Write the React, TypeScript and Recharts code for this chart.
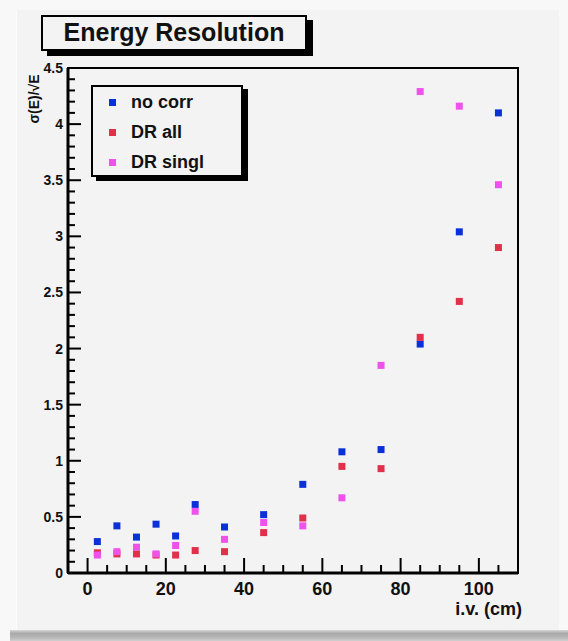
import React from 'react';
import { ScatterChart, Scatter, XAxis, YAxis, ReferenceArea } from 'recharts';

// impact positions (cm) and resolution values per reconstruction
const ivPositions = [2.5, 7.5, 12.5, 17.5, 22.5, 27.5, 35, 45, 55, 65, 75, 85, 95, 105];
const noCorr = [0.28, 0.42, 0.32, 0.435, 0.33, 0.61, 0.41, 0.52, 0.79, 1.08, 1.1, 2.04, 3.04, 4.1];
const drAll = [0.18, 0.17, 0.17, 0.16, 0.16, 0.2, 0.19, 0.36, 0.49, 0.95, 0.93, 2.1, 2.42, 2.9];
const drSingl = [0.16, 0.19, 0.23, 0.17, 0.245, 0.55, 0.3, 0.45, 0.42, 0.67, 1.85, 4.29, 4.16, 3.46];

const xMajorTicks = [0, 20, 40, 60, 80, 100];
const yMajorTicks = [0, 0.5, 1, 1.5, 2, 2.5, 3, 3.5, 4, 4.5];
// minor divisions: every 5 cm on x, every 0.1 on y
const xTicks = Array.from({ length: 24 }, (_, i) => -5 + i * 5);
const yTicks = Array.from({ length: 46 }, (_, i) => i / 10);

const FONT = '"Liberation Sans", Arial, Helvetica, sans-serif';
const BG = '#f3f3f3';

const series = [
  { name: 'no corr', color: '#0a30da', values: noCorr },
  { name: 'DR all', color: '#e2304a', values: drAll },
  { name: 'DR singl', color: '#ee52ea', values: drSingl },
];

const toPoints = (values: number[]) => ivPositions.map((x, i) => ({ x, y: values[i] }));

const isMajor = (v: number, list: number[]) => list.some((m) => Math.abs(m - v) < 1e-6);

const YTick = (props: any) => {
  const { x, y, payload } = props;
  const v = payload.value;
  const major = isMajor(v, yMajorTicks);
  return (
    <g>
      <line x1={x} x2={x + (major ? 13 : 7)} y1={y} y2={y} stroke="#000" strokeWidth={2} />
      {major && (
        <text x={x - 5} y={y + 5} textAnchor="end" fontSize={14} fontWeight="bold" fontFamily={FONT} fill="#111">
          {String(v)}
        </text>
      )}
    </g>
  );
};

const XTick = (props: any) => {
  const { x, y, payload } = props;
  const v = payload.value;
  if (v < 0 || v > 105) return <g />;
  const major = isMajor(v, xMajorTicks);
  return (
    <g>
      <line x1={x} x2={x} y1={y} y2={y - (major ? 15 : 8)} stroke="#000" strokeWidth={2} />
      {major && (
        <text x={x} y={y + 22} textAnchor="middle" fontSize={18} fontWeight="bold" fontFamily={FONT} fill="#111">
          {String(v)}
        </text>
      )}
    </g>
  );
};

const squareShape = (color: string) => (p: any) => (
  <rect x={p.cx - 3.5} y={p.cy - 3.5} width={7} height={7} fill={color} />
);

export default function App() {
  return (
    <div style={{ position: 'absolute', left: 0, top: 0, width: 568, height: 641, background: '#f8f8f8', overflow: 'hidden', fontFamily: FONT }}>
      {/* canvas panel */}
      <div style={{ position: 'absolute', left: 16, top: 10, width: 542, height: 620, background: BG, borderLeft: '1px solid #fcfcfc' }} />
      <div style={{ position: 'absolute', left: 10, top: 630, width: 558, height: 11, background: 'linear-gradient(#d8d8d8, #a9a9a9 30%, #b8b8b8 70%, #cfcfcf)' }} />

      <div style={{ position: 'absolute', left: 0, top: 0 }}>
        <ScatterChart width={568} height={641} margin={{ top: 68, right: 50, bottom: 28, left: 0 }}>
          <ReferenceArea x1={-5} x2={110} y1={0} y2={4.5} fill="none" stroke="#000" strokeWidth={2} />
          <XAxis
            type="number"
            dataKey="x"
            domain={[-5, 110]}
            ticks={xTicks}
            interval={0}
            allowDataOverflow
            height={40}
            tickSize={0}
            tickMargin={0}
            tickLine={false}
            axisLine={{ stroke: '#000', strokeWidth: 3 }}
            tick={<XTick />}
          />
          <YAxis
            type="number"
            dataKey="y"
            domain={[0, 4.5]}
            ticks={yTicks}
            interval={0}
            allowDataOverflow
            width={68}
            tickSize={0}
            tickMargin={0}
            tickLine={false}
            axisLine={{ stroke: '#000', strokeWidth: 3 }}
            tick={<YTick />}
          />
          {series.map((s) => (
            <Scatter
              key={s.name}
              name={s.name}
              data={toPoints(s.values)}
              fill={s.color}
              shape={squareShape(s.color)}
              isAnimationActive={false}
            />
          ))}
        </ScatterChart>
      </div>

      {/* title box */}
      <div
        style={{
          position: 'absolute', left: 41, top: 15, width: 262, height: 32,
          border: '2px solid #000', background: BG, boxShadow: '6px 5px 0 #000',
          fontSize: 25, fontWeight: 'bold', color: '#111', lineHeight: '31px', textAlign: 'center',
        }}
      >
        Energy Resolution
      </div>

      {/* legend */}
      <div
        style={{
          position: 'absolute', left: 91, top: 85, width: 148, height: 88,
          border: '2px solid #000', background: BG, boxShadow: '5px 4px 0 #000',
        }}
      >
        {series.map((s, i) => (
          <div key={s.name} style={{ position: 'absolute', left: 0, top: 0 + i * 30, height: 30, display: 'flex', alignItems: 'center' }}>
            <div style={{ width: 7, height: 7, background: s.color, marginLeft: 16, marginRight: 15 }} />
            <span style={{ fontSize: 18, fontWeight: 'bold', color: '#111' }}>{s.name}</span>
          </div>
        ))}
      </div>

      {/* axis titles */}
      <div style={{ position: 'absolute', left: 443, top: 599, width: 79, fontSize: 18, fontWeight: 'bold', color: '#111', textAlign: 'right', whiteSpace: 'nowrap' }}>
        i.v. (cm)
      </div>
      <div
        style={{
          position: 'absolute', left: 34, top: 99, fontSize: 14, fontWeight: 'bold', color: '#111',
          whiteSpace: 'nowrap', transform: 'translate(-50%, -50%) rotate(-90deg)',
        }}
      >
        σ(E)/√E
      </div>
    </div>
  );
}
